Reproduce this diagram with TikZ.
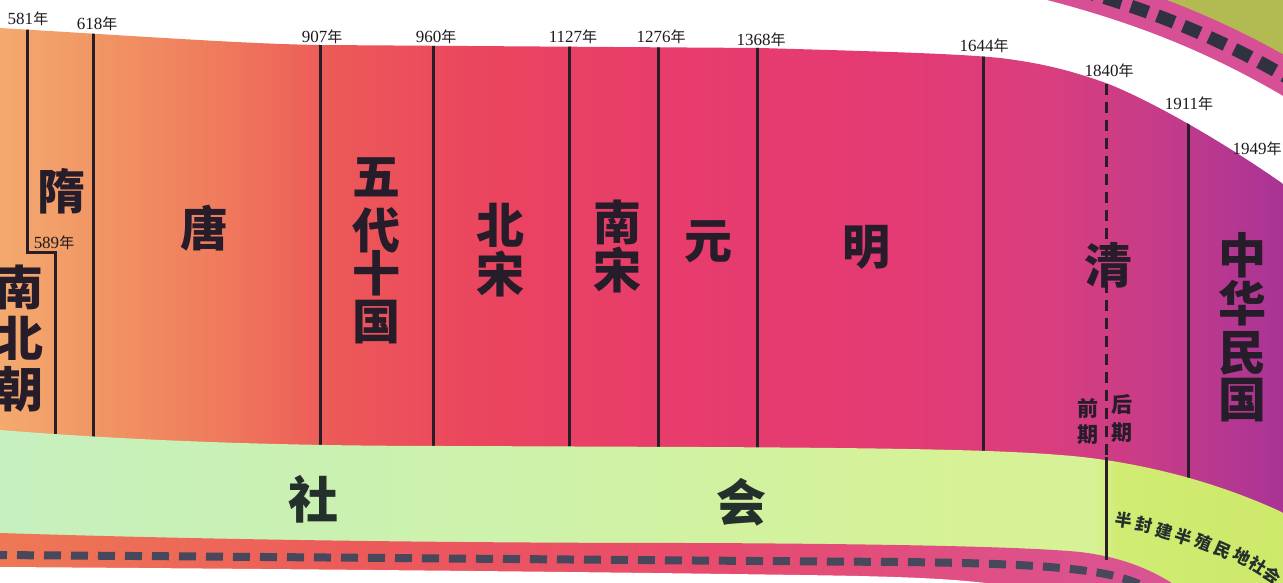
\documentclass[tikz,border=0pt]{standalone}
\usepackage{fontspec}
\setmainfont{Liberation Serif}
\newfontfamily\cjk{Noto Sans CJK SC}
\definecolor{b0}{RGB}{243,170,110}
\definecolor{b1}{RGB}{241,148,100}
\definecolor{b2}{RGB}{239,122,92}
\definecolor{b3}{RGB}{236,88,88}
\definecolor{b4}{RGB}{234,68,95}
\definecolor{b5}{RGB}{231,60,108}
\definecolor{b6}{RGB}{228,58,115}
\definecolor{b7}{RGB}{218,62,125}
\definecolor{b8}{RGB}{200,60,135}
\definecolor{b9}{RGB}{180,55,145}
\definecolor{b10}{RGB}{165,50,150}
\definecolor{g0}{RGB}{198,240,190}
\definecolor{g1}{RGB}{205,242,170}
\definecolor{g2}{RGB}{215,242,150}
\definecolor{g3}{RGB}{208,236,115}
\definecolor{g4}{RGB}{205,232,105}
\definecolor{s0}{RGB}{238,120,85}
\definecolor{s1}{RGB}{236,90,90}
\definecolor{s2}{RGB}{232,75,110}
\definecolor{s3}{RGB}{222,80,135}
\definecolor{s4}{RGB}{215,85,150}
\definecolor{topstripc}{RGB}{215,80,150}
\definecolor{cornerc}{RGB}{178,186,82}
\definecolor{sqc}{RGB}{48,50,66}
\definecolor{dashc}{RGB}{72,72,92}
\definecolor{linec}{RGB}{40,30,40}
\definecolor{inkc}{RGB}{38,28,42}
\definecolor{socc}{RGB}{36,48,44}
\definecolor{yearc}{RGB}{30,25,30}
\pgfdeclarehorizontalshading{bandshade}{100bp}{color(0bp)=(b0); color(25bp)=(b0); color(29bp)=(b1); color(33.5bp)=(b2); color(38bp)=(b3); color(44bp)=(b4); color(51bp)=(b5); color(59bp)=(b6); color(65bp)=(b7); color(69bp)=(b8); color(72.5bp)=(b9); color(75bp)=(b10); color(100bp)=(b10)}
\pgfdeclarehorizontalshading{greenshade}{100bp}{color(0bp)=(g0); color(25bp)=(g0); color(45bp)=(g1); color(62bp)=(g2); color(67bp)=(g2); color(68bp)=(g3); color(75bp)=(g4); color(100bp)=(g4)}
\pgfdeclarehorizontalshading{stripshade}{100bp}{color(0bp)=(s0); color(25bp)=(s0); color(40bp)=(s1); color(55bp)=(s2); color(67bp)=(s3); color(75bp)=(s4); color(100bp)=(s4)}
\newcommand\nian{{\cjk\fontsize{15}{15}\selectfont 年}}
\begin{document}
\begin{tikzpicture}[x=1pt,y=-1pt,
  era/.style={font=\cjk\bfseries\fontsize{48}{48}\selectfont, text=inkc, inner sep=0pt},
  smallera/.style={font=\cjk\bfseries\fontsize{21}{21}\selectfont, text=inkc, inner sep=0pt},
  yearlab/.style={font=\fontsize{17}{17}\selectfont, text=yearc, inner sep=0pt},
  soc/.style={font=\cjk\bfseries\fontsize{50}{50}\selectfont, text=socc, inner sep=0pt},
  semi/.style={font=\cjk\bfseries\fontsize{17}{17}\selectfont, text=socc, inner sep=0pt},
  divider/.style={draw=linec, line width=3pt},
  bandregion/.style={insert path={(0,28) .. controls (150,37) and (250,44) .. (320,45) -- (760,48) .. controls (900,52) and (960,54) .. (1000,58) .. controls (1050,64) and (1080,74) .. (1106,83) .. controls (1150,100) and (1230,145) .. (1300,196) -- (1300,620) -- (0,620) -- cycle}},
  greenregion/.style={insert path={(0,430) .. controls (150,442) and (300,446) .. (450,446) -- (700,447) .. controls (900,448) and (1000,450) .. (1060,455) .. controls (1130,460) and (1220,480) .. (1300,521) -- (1300,620) -- (0,620) -- cycle}},
]
\path[use as bounding box] (0,0) rectangle (1283,583);
\clip (0,0) rectangle (1283,583);
\fill[white] (0,0) rectangle (1283,583);
% top-right film strip
\fill[cornerc] (1000,-30) .. controls (1110,-5) and (1200,25) .. (1300,85) -- (1300,-40) -- cycle;
\draw[topstripc, line width=36pt] (1000,-30) .. controls (1110,-5) and (1200,25) .. (1300,85);
\draw[sqc, line width=13pt, dash pattern=on 18pt off 10pt, dash phase=4pt] (1000,-30) .. controls (1110,-5) and (1200,25) .. (1300,85);
% main era band
\shade[shading=bandshade, bandregion];
\begin{scope}
\clip[bandregion];
\draw[divider] (27,0) -- (27,252) -- (55,252) -- (55,620);
\draw[divider] (93,0) -- (93,620);
\draw[divider] (320,0) -- (320,620);
\draw[divider] (433,0) -- (433,620);
\draw[divider] (569,0) -- (569,620);
\draw[divider] (658,0) -- (658,620);
\draw[divider] (757,0) -- (757,620);
\draw[divider] (983,0) -- (983,620);
\draw[divider] (1188,0) -- (1188,620);
\draw[divider, dash pattern=on 11pt off 7pt] (1106,84) -- (1106,458);
\end{scope}
% society band
\shade[shading=greenshade, greenregion];
% lower film strip
\shade[shading=stripshade] (0,533) .. controls (250,541) and (500,543) .. (700,543) .. controls (900,544) and (1030,547) .. (1080,552) .. controls (1130,558) and (1165,575) .. (1195,600) -- (0,620) -- cycle;
\fill[white] (0,567) .. controls (300,569) and (600,572) .. (800,575) .. controls (950,577) and (1010,581) .. (1060,600) -- (0,620) -- cycle;
\draw[dashc, line width=8pt, dash pattern=on 17pt off 10pt] (-10,555) .. controls (300,557) and (600,560) .. (900,562) .. controls (1000,563) and (1060,566) .. (1100,573) .. controls (1130,578) and (1150,588) .. (1170,600);
\draw[divider] (1106,457) -- (1106,560);
% year labels
\node[yearlab] (y581) at (28,19) {581\nian};
\node[yearlab] (y618) at (97,24) {618\nian};
\node[yearlab] (y589) at (54,243) {589\nian};
\node[yearlab] (y907) at (322,37) {907\nian};
\node[yearlab] (y960) at (436,37) {960\nian};
\node[yearlab] (y1127) at (573,37) {1127\nian};
\node[yearlab] (y1276) at (661,37) {1276\nian};
\node[yearlab] (y1368) at (761,40) {1368\nian};
\node[yearlab] (y1644) at (984,46) {1644\nian};
\node[yearlab] (y1840) at (1109,71) {1840\nian};
\node[yearlab] (y1911) at (1189,104) {1911\nian};
\node[yearlab] (y1949) at (1257,149) {1949\nian};
% dynasties
\node[era] (sui) at (61,191) {隋};
\node[era] (nbc1) at (19,287) {南};
\node[era] (nbc2) at (19,338) {北};
\node[era] (nbc3) at (19,389) {朝};
\node[era] (tang) at (204,228) {唐};
\node[era] (wd1) at (376,177) {五};
\node[era] (wd2) at (376,230) {代};
\node[era] (wd3) at (376,273) {十};
\node[era] (wd4) at (376,322) {国};
\node[era] (bs1) at (500,225) {北};
\node[era] (bs2) at (500,274) {宋};
\node[era] (ns1) at (617,222) {南};
\node[era] (ns2) at (617,270) {宋};
\node[era] (yuan) at (708,242) {元};
\node[era] (ming) at (866,247) {明};
\node[era] (qing) at (1108,265) {清};
\node[era] (mg1) at (1242,255) {中};
\node[era] (mg2) at (1242,303) {华};
\node[era] (mg3) at (1242,353) {民};
\node[era] (mg4) at (1242,400) {国};
\node[smallera] (qq1) at (1088,408) {前};
\node[smallera] (qq2) at (1088,435) {期};
\node[smallera] (hq1) at (1122,405) {后};
\node[smallera] (hq2) at (1122,433) {期};
% society
\node[soc] (she) at (313,499) {社};
\node[soc] (hui) at (741,502) {会};
\node[semi, rotate=-8] (c1) at (1124,520) {半};
\node[semi, rotate=-12] (c2) at (1144,525) {封};
\node[semi, rotate=-15] (c3) at (1164,531) {建};
\node[semi, rotate=-18] (c4) at (1184,537) {半};
\node[semi, rotate=-21] (c5) at (1204,543) {殖};
\node[semi, rotate=-24] (c6) at (1223,550) {民};
\node[semi, rotate=-28] (c7) at (1242,557) {地};
\node[semi, rotate=-32] (c8) at (1258,565) {社};
\node[semi, rotate=-37] (c9) at (1272,575) {会};
\end{tikzpicture}
\end{document}
